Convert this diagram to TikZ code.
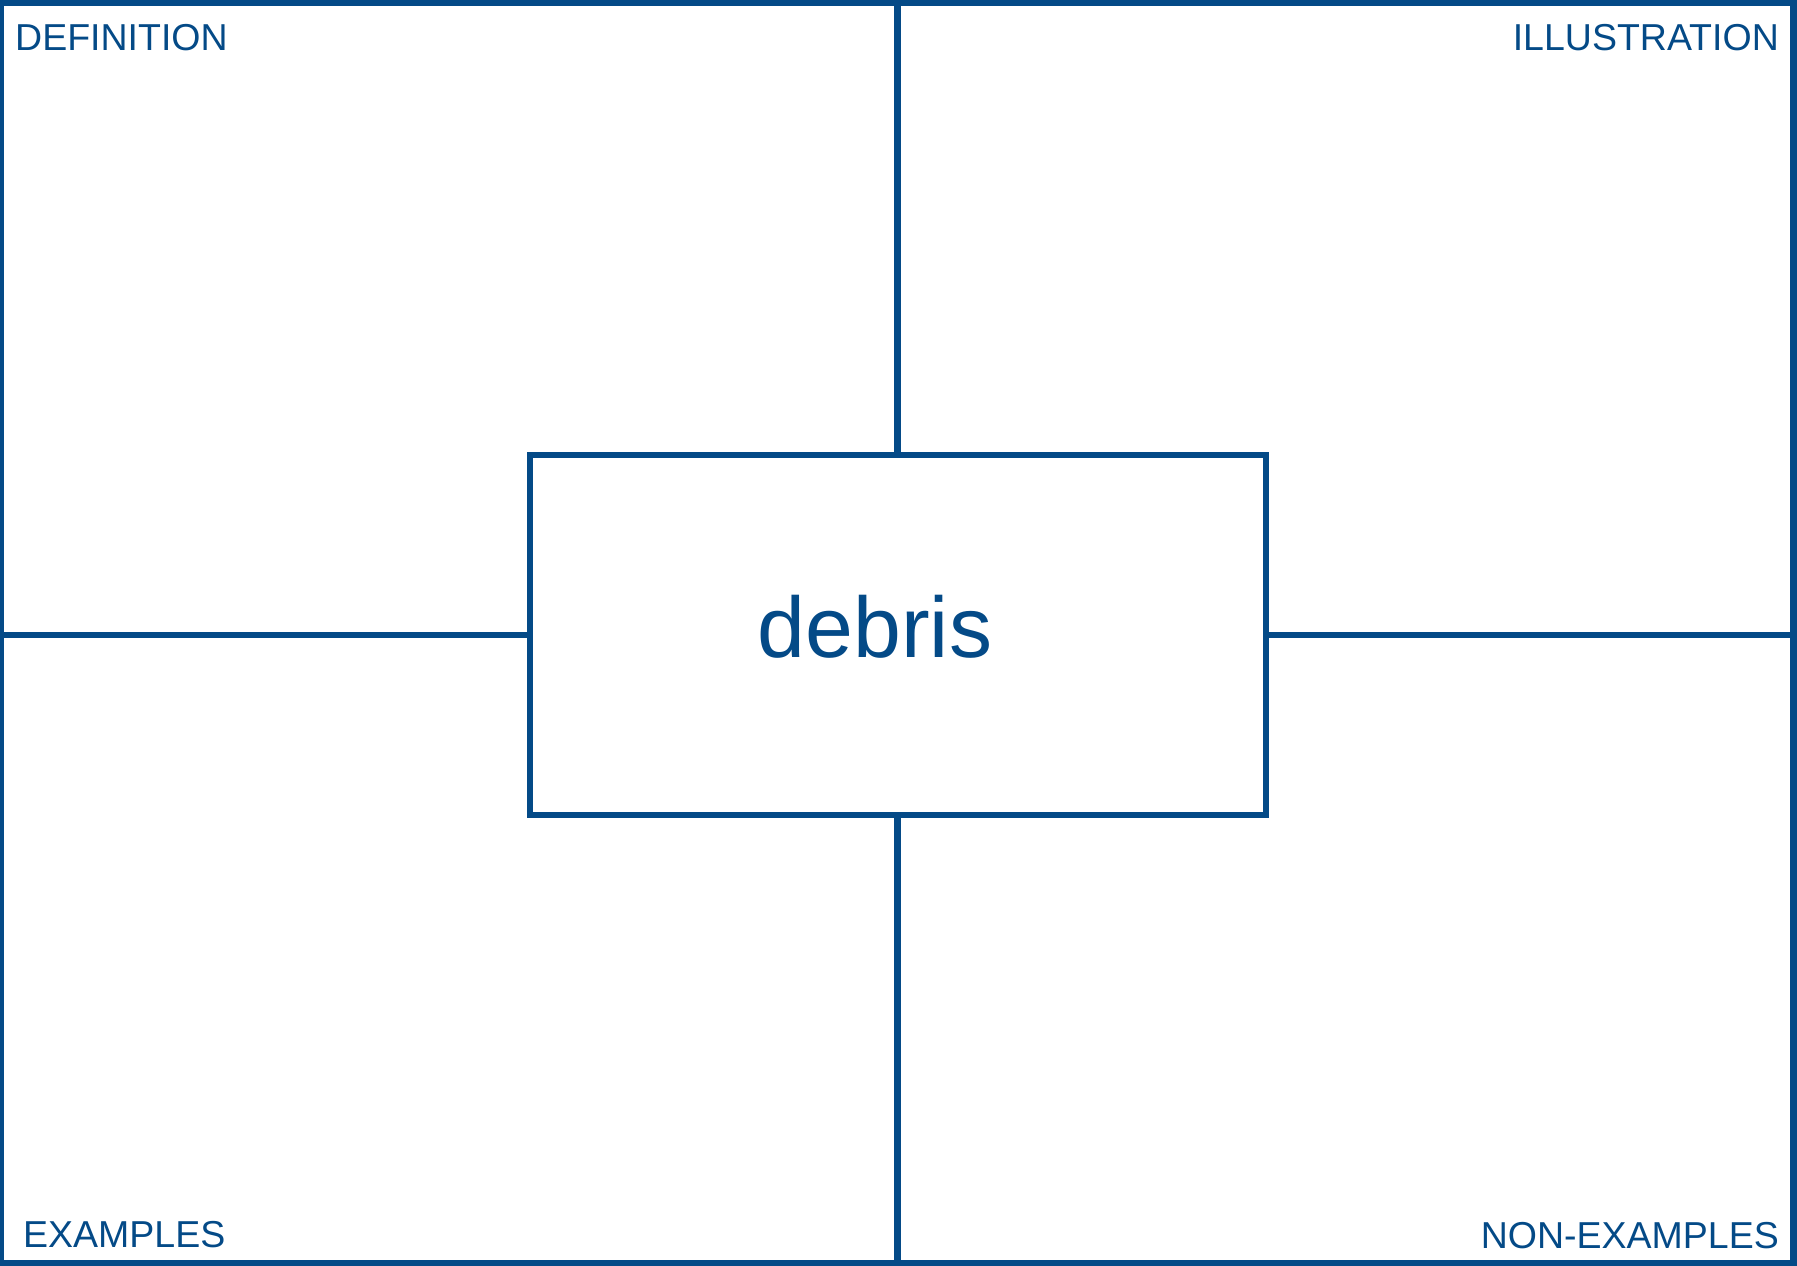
\documentclass[tikz,border=0pt]{standalone}
\usepackage{fontspec}
\setmainfont{Liberation Sans}
\usetikzlibrary{positioning}
\definecolor{cardblue}{RGB}{4,74,135}

\begin{document}
\begin{tikzpicture}[x=1pt,y=-1pt]
        \tikzstyle{every node}=[text=cardblue, inner sep=0pt]
        \tikzstyle{corner}=[font=\fontsize{37.5pt}{40pt}\selectfont]
        \tikzstyle{rule}=[draw=cardblue, line width=6.5pt]
        \useasboundingbox (0,0) rectangle (1797,1266);
        \coordinate (tl) at (0.5,2.5);
        \coordinate (br) at (1793.5,1263.5);
        \draw[rule] (tl) rectangle (br);
        \node[draw=cardblue, line width=6pt, minimum width=736pt, minimum height=360pt] (word) at (897.5,635) {};
        \node[anchor=base, font=\fontsize{86pt}{90pt}\selectfont] (term) at (875,657) {debris};
        \draw[rule] (word.north) -- (word.north |- tl);
        \draw[rule] (word.south) -- (word.south |- br);
        \draw[rule] (word.west) -- (word.west -| tl);
        \draw[rule] (word.east) -- (word.east -| br);
        \node[corner, anchor=base west] (def) at (15,50) {DEFINITION};
        \node[corner, anchor=base east] (ill) at (1779,50) {ILLUSTRATION};
        \node[corner, anchor=base west] (ex) at (23,1247) {EXAMPLES};
        \node[corner, anchor=base east] (nonex) at (1779,1248) {NON-EXAMPLES};
\end{tikzpicture}
\end{document}
